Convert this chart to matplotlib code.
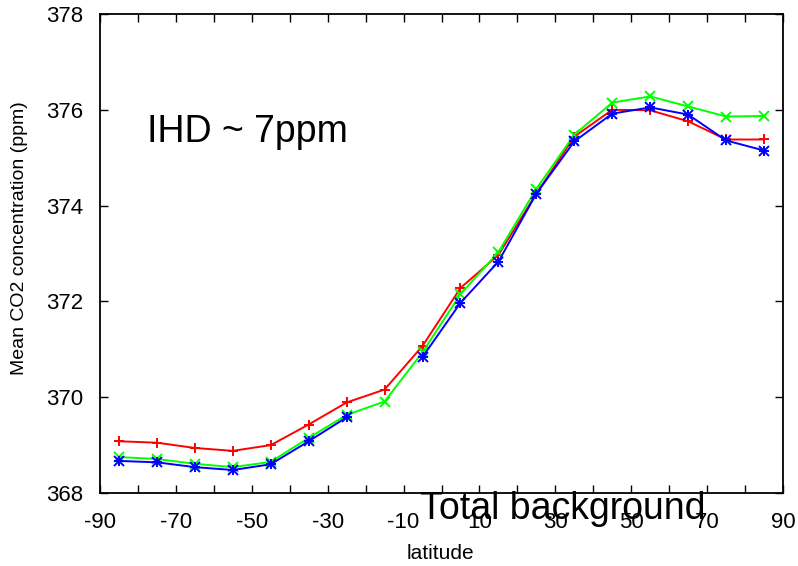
import numpy as np
import matplotlib
matplotlib.use("Agg")
import matplotlib.pyplot as plt

plt.rcParams['font.family'] = ['Liberation Sans', 'DejaVu Sans']

latitude = [-85, -75, -65, -55, -45, -35, -25, -15, -5, 5, 15, 25, 35, 45, 55, 65, 75, 85]
red_vals = [369.08, 369.05, 368.94, 368.88, 369.00, 369.43, 369.89, 370.16, 371.07, 372.28,
            372.97, 374.25, 375.44, 376.00, 375.99, 375.76, 375.38, 375.38]
green_vals = [368.75, 368.71, 368.61, 368.54, 368.65, 369.15, 369.63, 369.91, 370.94, 372.15,
              373.03, 374.35, 375.48, 376.15, 376.28, 376.07, 375.86, 375.87]
blue_vals = [368.67, 368.64, 368.54, 368.48, 368.60, 369.08, 369.58, np.nan, 370.84, 371.97,
             372.83, 374.25, 375.34, 375.92, 376.05, 375.90, 375.36, 375.15]

xticks_major = [-90, -70, -50, -30, -10, 10, 30, 50, 70, 90]
xticks_minor = [-80, -60, -40, -20, 0, 20, 40, 60, 80]
yticks = [368, 370, 372, 374, 376, 378]

fig = plt.figure(figsize=(7.98, 5.66), dpi=100)
ax = fig.add_axes([100/798, 1-493/566, 683/798, 479/566])

lw = 1.4
ax.plot(latitude, red_vals, color='#ff0000', lw=lw, marker='+', ms=7.5, mew=1.4, zorder=3)
ax.plot(latitude, green_vals, color='#00ff00', lw=lw, marker='x', ms=6.5, mew=1.4, zorder=4)
ax.plot(latitude, blue_vals, color='#0000ff', lw=lw, marker='+', ms=7.5, mew=1.4, zorder=5)
ax.plot(latitude, blue_vals, color='#0000ff', lw=0, marker='x', ms=6.5, mew=1.4, zorder=5)

ax.set_xlim(-90, 90)
ax.set_ylim(368, 378)
ax.set_xticks(xticks_major)
ax.set_xticks(xticks_minor, minor=True)
ax.set_yticks(yticks)
ax.set_xticklabels([str(v) for v in xticks_major])
ax.set_yticklabels([str(v) for v in yticks])

ax.tick_params(axis='both', which='both', direction='in', top=True, right=True,
               length=6, width=1.0, color='black')
ax.tick_params(axis='x', which='major', labelsize=16, pad=14)
ax.tick_params(axis='y', which='major', labelsize=16, pad=12)
for s in ax.spines.values():
    s.set_linewidth(1.3)

fig.text(20/798, 1-238/566, 'Mean CO2 concentration (ppm)', rotation=90,
         ha='center', va='center', fontsize=14)
fig.text(440/798, 1-559/566, 'latitude', ha='center', va='baseline', fontsize=15)
fig.text(147/798, 1-142/566, 'IHD ~ 7ppm', ha='left', va='baseline', fontsize=27)
fig.text(420/798, 1-519/566, 'Total background', ha='left', va='baseline', fontsize=27)

fig.savefig('out.png', dpi=100)
